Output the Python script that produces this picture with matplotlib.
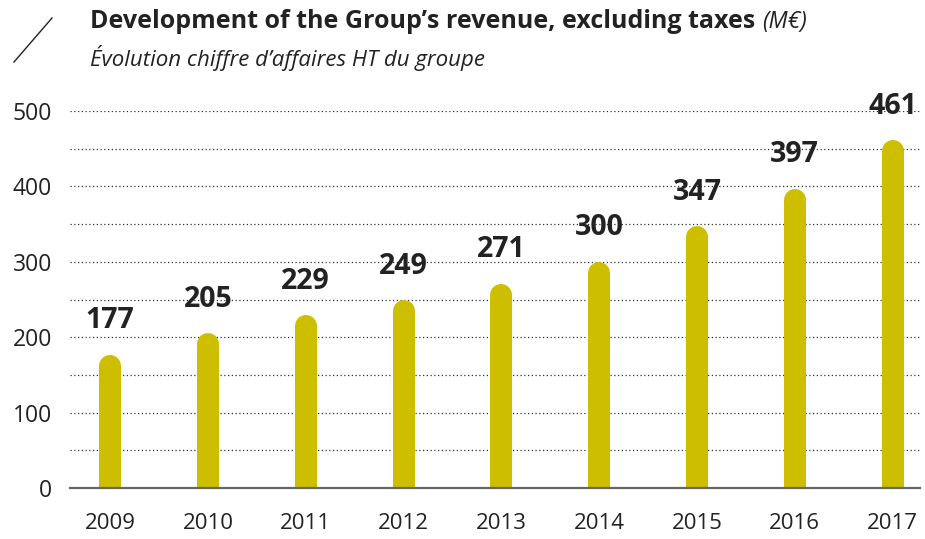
import matplotlib
matplotlib.use("Agg")
import matplotlib.pyplot as plt
from matplotlib.lines import Line2D

years = ["2009", "2010", "2011", "2012", "2013", "2014", "2015", "2016", "2017"]
revenue = [177, 205, 229, 249, 271, 300, 347, 397, 461]
yticks = [0, 100, 200, 300, 400, 500]

plt.rcParams['font.family'] = ['Open Sans', 'DejaVu Sans']

W, H = 925, 539
fig = plt.figure(figsize=(W / 100, H / 100), dpi=100)
ax = fig.add_axes([70 / W, 1 - 488 / H, 850 / W, 377 / H])

bar_color = "#CDBF00"
bar_px = 22
lw_pt = bar_px * 72 / 100
ax.set_ylim(0, 500)
ax.set_xlim(-0.41, len(years) - 1 + 0.28)

dpp = 500 / 377
r_data = (bar_px / 2) * dpp

for i, v in enumerate(revenue):
    ax.plot([i, i], [-50, v - r_data], color=bar_color, lw=lw_pt,
            solid_capstyle="round", zorder=3)
    ax.annotate(str(v), (i, v), xytext=(0, 34 * 0.72), textcoords="offset points",
                ha="center", va="center", fontsize=20.5, fontweight="bold",
                color="#222222", zorder=4, annotation_clip=False)

for g in range(50, 501, 50):
    ax.axhline(g, color="#333333", lw=0.9, ls=(0, (1, 2)), zorder=1)
ax.axhline(0, color="#666666", lw=1.6, zorder=5, clip_on=False)

for s in ax.spines.values():
    s.set_visible(False)
ax.set_yticks(yticks)
ax.set_yticklabels([str(t) for t in yticks])
ax.set_xticks(range(len(years)))
ax.set_xticklabels(years)
ax.tick_params(axis="y", length=0, pad=13, labelsize=16.5, labelcolor="#222222")
ax.tick_params(axis="x", length=0, pad=18, labelsize=16, labelcolor="#222222")

fig.text(90 / W, 1 - 22 / H, "Development of the Group\u2019s revenue, excluding taxes",
         fontsize=18, fontweight="bold", color="#222222", va="center", ha="left")
t = fig.texts[-1]
fig.canvas.draw()
bb = t.get_window_extent()
fig.text((bb.x1 + 7) / W, 1 - 22 / H, "(M\u20ac)", fontsize=16.5, style="italic",
         color="#222222", va="center", ha="left")
fig.text(90 / W, 1 - 58 / H, "\u00c9volution chiffre d\u2019affaires HT du groupe",
         fontsize=16, style="italic", color="#222222", va="center", ha="left")
fig.add_artist(Line2D([14 / W, 52 / W], [1 - 62 / H, 1 - 18 / H], color="#222222", lw=1.0))

fig.savefig("out.png", dpi=100)
